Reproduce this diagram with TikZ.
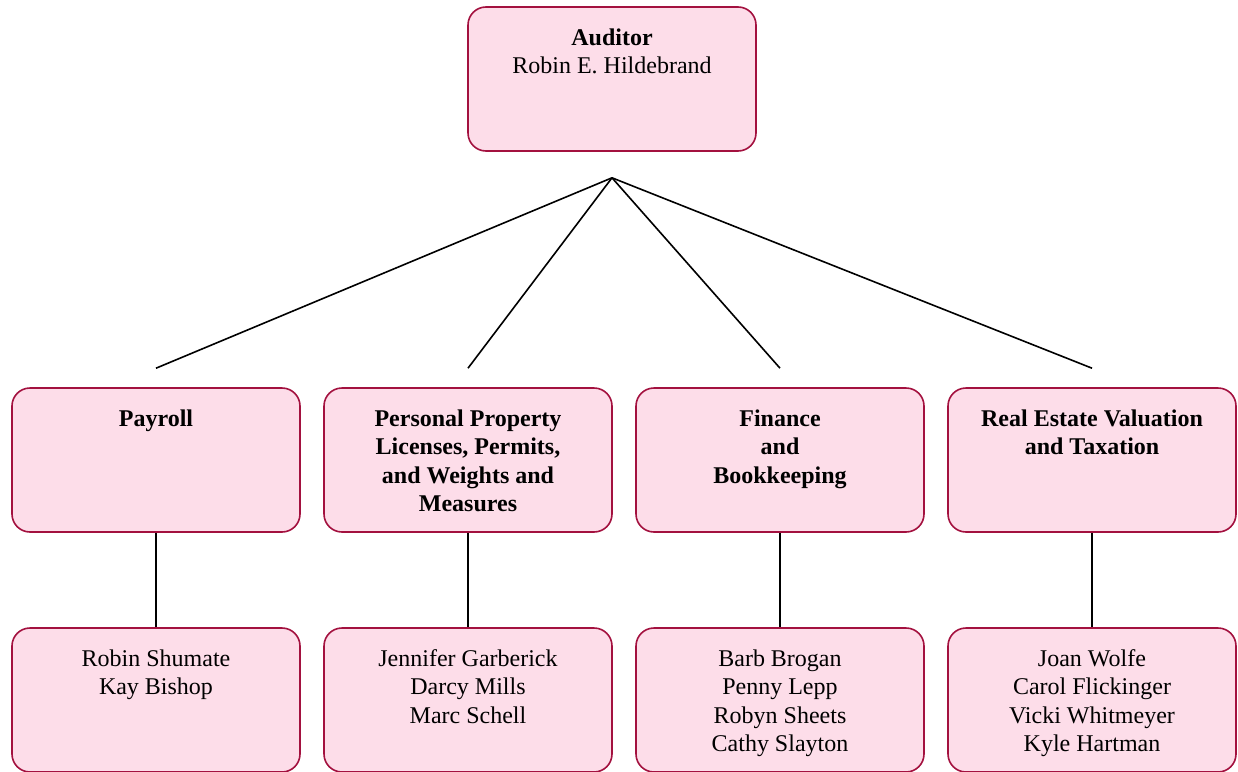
\documentclass[tikz,border=0pt]{standalone}
\usepackage{fontspec}
\setmainfont{Liberation Serif}
\definecolor{boxborder}{HTML}{A3113F}
\definecolor{boxfill}{HTML}{FDDDE9}
\newcommand{\boxtext}[1]{\parbox[t][106pt][t]{262pt}{\centering\strut #1}}
\begin{document}
\begin{tikzpicture}[x=1pt,y=-1pt,
  orgbox/.style={draw=boxborder, fill=boxfill, line width=1.6pt, rounded corners=18pt,
    inner xsep=13pt, inner ysep=19pt, font=\fontsize{24}{28.2}\selectfont},
  conn/.style={line width=1.6pt, black}]
\useasboundingbox (0,0) rectangle (1238,771);
% boxes
\node[orgbox] (aud) at (612,79) {\boxtext{\textbf{Auditor}\\Robin E. Hildebrand}};
\node[orgbox] (pay) at (156,460) {\boxtext{\textbf{Payroll}}};
\node[orgbox] (pp) at (468,460) {\boxtext{\textbf{Personal Property\\Licenses, Permits,\\and Weights and\\Measures}}};
\node[orgbox] (fin) at (780,460) {\boxtext{\textbf{Finance\\and\\Bookkeeping}}};
\node[orgbox] (re) at (1092,460) {\boxtext{\textbf{Real Estate Valuation\\and Taxation}}};
\node[orgbox] (payp) at (156,700) {\boxtext{Robin Shumate\\Kay Bishop}};
\node[orgbox] (ppp) at (468,700) {\boxtext{Jennifer Garberick\\Darcy Mills\\Marc Schell}};
\node[orgbox] (finp) at (780,700) {\boxtext{Barb Brogan\\Penny Lepp\\Robyn Sheets\\Cathy Slayton}};
\node[orgbox] (rep) at (1092,700) {\boxtext{Joan Wolfe\\Carol Flickinger\\Vicki Whitmeyer\\Kyle Hartman}};
% connectors
\coordinate (hub) at ([yshift=-26pt]aud.south);
\coordinate (e1) at ([yshift=19pt]pay.north);
\coordinate (e2) at ([yshift=19pt]pp.north);
\coordinate (e3) at ([yshift=19pt]fin.north);
\coordinate (e4) at ([yshift=19pt]re.north);
\draw[conn] (hub) -- (e1);
\draw[conn] (hub) -- (e2);
\draw[conn] (hub) -- (e3);
\draw[conn] (hub) -- (e4);
\draw[conn] (pay.south) -- (payp.north);
\draw[conn] (pp.south) -- (ppp.north);
\draw[conn] (fin.south) -- (finp.north);
\draw[conn] (re.south) -- (rep.north);
\end{tikzpicture}
\end{document}
